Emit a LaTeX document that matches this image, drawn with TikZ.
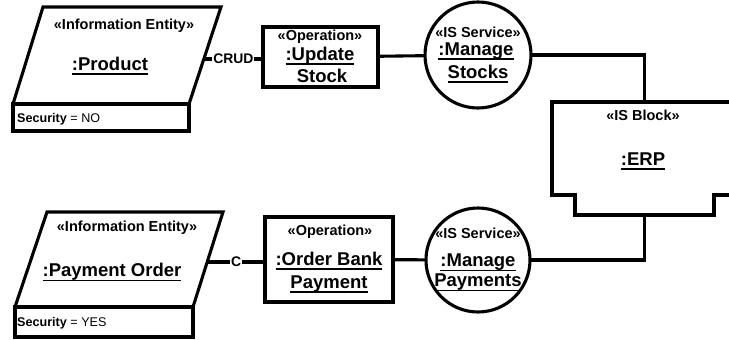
\documentclass[tikz,border=0pt]{standalone}
\usepackage{fontspec}
\setmainfont{Liberation Sans}
\usetikzlibrary{calc}
% underlined object name with a fixed offset below the baseline
\newcommand\objul[1]{{\setbox0\hbox{#1}\rlap{\copy0}\rule[-4.6pt]{\wd0}{1.6pt}}}
\begin{document}
\begin{tikzpicture}[x=1pt,y=-1pt,
  outline/.style={line width=3.1pt, line join=miter},
  flow/.style={line width=3.1pt},
  opbox/.style={draw, line width=3.1pt, inner sep=0pt, outer sep=0pt},
  svc/.style={draw, circle, line width=3.1pt, inner sep=0pt, outer sep=0pt},
  stereo/.style={font=\fontsize{14.5}{17}\selectfont\bfseries, inner sep=0pt, anchor=base},
  objname/.style={font=\fontsize{18.5}{21}\selectfont\bfseries, inner sep=0pt, anchor=base},
  attr/.style={font=\fontsize{12.6}{15}\selectfont, inner sep=0pt, anchor=base west},
  flowlabel/.style={font=\fontsize{13.9}{16}\selectfont\bfseries, fill=white, inner xsep=1pt, inner ysep=1pt}]
\clip (0,0) rectangle (729,340);
\fill[white] (0,0) rectangle (729,340);

% ---- information entity: Product ----
\draw[outline] (43,7) -- (221,7) -- (189,104) -- (13,104) -- cycle;
\draw[outline] (13,104) rectangle (189,131);
\node[stereo] (prodst) at (124,29.5) {«Information Entity»};
\node[objname] (prodnm) at (110,70) {\objul{:Product}};
\node[attr] (prodsec) at (17,122) {\textbf{Security} = NO};
\coordinate (prodport) at (203.8,59);

% ---- operation: Update Stock ----
\node[opbox, minimum width=115, minimum height=60] (us) at (320.5,57) {};
\node[stereo] (usst) at (320,40) {«Operation»};
\node[objname] (usnm1) at (320,60) {\objul{:Update}};
\node[objname] (usnm2) at (322,82) {\objul{Stock}};

% ---- IS service: Manage Stocks ----
\node[svc, minimum size=106] (ms) at (478,55) {};
\node[stereo] (msst) at (478,37) {«IS Service»};
\node[objname] (msnm1) at (476,55) {\objul{:Manage}};
\node[objname] (msnm2) at (478,78) {\objul{Stocks}};

% ---- IS block: ERP ----
\node[minimum width=185, minimum height=93, inner sep=0pt, outer sep=0pt] (erp) at (644.5,148.5) {};
\draw[outline] (erp.south west) -- (erp.north west) -- (erp.north east) -- (erp.south east)
  -- ++(-23,0) -- ++(0,20) -- ($(erp.south west)+(23,20)$) -- ++(0,-20) -- cycle;
\coordinate (erpb) at ($(erp.south)+(0,20)$);
\node[stereo] (erpst) at (643,120) {«IS Block»};
\node[objname] (erpnm) at (643,165) {\objul{:ERP}};

% ---- information entity: Payment Order ----
\draw[outline] (47,212) -- (223,212) -- (193,307) -- (15,307) -- cycle;
\draw[outline] (15,307) rectangle (193,337);
\node[stereo] (payst) at (127,231.7) {«Information Entity»};
\node[objname] (paynm) at (112,276.7) {\objul{:Payment Order}};
\node[attr] (paysec) at (17,326.7) {\textbf{Security} = YES};
\coordinate (payport) at (207.2,262);

% ---- operation: Order Bank Payment ----
\node[opbox, minimum width=128, minimum height=85] (ob) at (329,259.5) {};
\node[stereo] (obst) at (330,235) {«Operation»};
\node[objname] (obnm1) at (329,265) {\objul{:Order Bank}};
\node[objname] (obnm2) at (329,288) {\objul{Payment}};

% ---- IS service: Manage Payments ----
\node[svc, minimum size=104] (mp) at (478,260) {};
\node[stereo] (mpst) at (478,238) {«IS Service»};
\node[objname] (mpnm1) at (478,266.7) {\objul{:Manage}};
\node[objname] (mpnm2) at (478,286.7) {\objul{Payments}};

% ---- connectors ----
\draw[flow] (prodport) -- node[flowlabel] {CRUD} (prodport -| us.west);
\draw[flow] (us) -- (ms);
\draw[flow] (ms.east) -| (erp.north);
\draw[flow] (payport) -- node[flowlabel] {C} (payport -| ob.west);
\draw[flow] (ob) -- (mp);
\draw[flow] (erpb) |- (mp.east);
\end{tikzpicture}
\end{document}
